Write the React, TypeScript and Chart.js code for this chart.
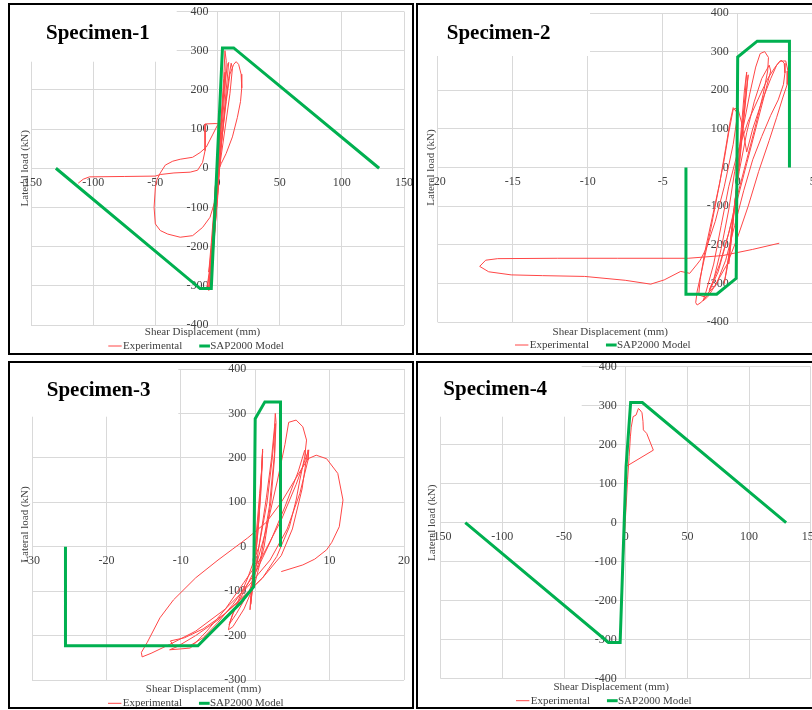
import React, { useEffect, useRef } from 'react';
import { Chart, registerables } from 'chart.js';

Chart.register(...registerables);

const FONT = '"Liberation Serif", "Times New Roman", serif';
const RED = 'rgb(255,70,70)';
const GREEN = '#00b050';
const TEXT = '#404040';
const GRID = '#d9d9d9';

const seriesNames = ['Experimental', 'SAP2000 Model'];
const specimenTitles = ['Specimen-1', 'Specimen-2', 'Specimen-3', 'Specimen-4'];
const xAxisTitle = 'Shear Displacement (mm)';
const yAxisTitle = 'Lateral load (kN)';

// Specimen-1
const spec1Model: [number, number][] = [[-130, 0], [-14, -307], [-5, -307], [4, 307], [13, 307], [130, 0]];
const spec1Experimental: [number, number][] = [
  [0, 0], [1, 50], [2, 100], [1, 40], [0, -20], [-2, -90], [-3, -140], [-1, -60], [1, 20], [3, 120], [5, 200], [6, 245],
  [4, 160], [1, 40], [-2, -80], [-4, -170], [-6, -240], [-7, -265], [-5, -190], [-2, -70], [2, 70], [5, 190], [8, 265],
  [9, 270], [7, 200], [4, 90], [0, -40], [-3, -150], [-6, -250], [-8, -295], [-9, -310], [-7, -300], [-5, -230],
  [-2, -110], [1, 20], [3, 130], [5, 230], [6, 300], [7, 275], [6, 200], [3, 80], [0, -50], [-3, -170], [-6, -280],
  [-7, -312], [-5, -290], [-3, -200], [0, -70], [3, 60], [6, 150], [9, 230], [11, 268], [12, 255], [10, 190], [6, 100],
  [2, 10], [-2, -120], [-5, -240], [-8, -300], [-6, -300], [-3, -190], [0, -70], [3, 60], [7, 170], [10, 240], [13, 265],
  [15, 272], [17, 265], [19, 240], [19.5, 205], [18.5, 170], [16, 130], [12, 80], [7, 38], [3, 12], [0, -10], [-2, -50],
  [-3, -120], [-4, -200], [-5, -270], [-4, -225], [-2, -150], [0, -80], [1, -40], [-2, -83], [-6, -125], [-12, -151],
  [-20, -172], [-30, -176], [-40, -168], [-46, -159], [-50, -142], [-51, -100], [-50, -50], [-49, -31], [-46, -12],
  [-42, 8], [-36, 18], [-30, 23], [-20, 28], [-14, 40], [-9, 54], [-4, 85], [0, 110], [3, 113], [-2, 114], [-10, 113],
  [-10, 80], [-10, 45], [-12, 15], [-16, -5], [-22, -10], [-35, -12], [-46, -16], [-50, -20], [-75, -21], [-103, -22],
  [-108, -28], [-112, -38],
];

// Specimen-2
const spec2Model: [number, number][] = [[-3.45, 0], [-3.45, -328], [-1.4, -328], [-0.1, -287], [0, 286], [1.3, 327], [3.45, 327], [3.45, 0]];
const spec2Experimental: [number, number][] = [
  [0, 0], [0.15, 60], [0.3, 130], [0.45, 200], [0.6, 247], [0.5, 190], [0.3, 110], [0.1, 20], [-0.1, -60], [-0.3, -140],
  [-0.5, -210], [-0.6, -250], [-0.4, -180], [-0.2, -90], [0.1, 0], [0.35, 100], [0.55, 180], [0.7, 240], [0.5, 170],
  [0.2, 50], [-0.1, -60], [-0.4, -170], [-0.7, -260], [-0.9, -300], [-0.6, -230], [-0.3, -120], [0.1, -10], [0.6, 90],
  [1.1, 170], [1.6, 230], [2.1, 265], [2.2, 250], [1.8, 190], [1.2, 100], [0.6, 10], [0, -80], [-0.6, -170],
  [-1.2, -250], [-1.7, -300], [-1.9, -318], [-1.6, -290], [-1.1, -210], [-0.6, -110], [-0.2, -10], [0.3, 90], [0.8, 190],
  [1.2, 260], [1.5, 295], [1.8, 300], [2.05, 285], [2, 250], [1.7, 190], [1.2, 110], [0.6, 20], [0, -70], [-0.6, -170],
  [-1.3, -270], [-2, -330], [-2.4, -348], [-2.7, -356], [-2.8, -350], [-2.7, -320], [-2.3, -250], [-1.8, -160],
  [-1.3, -60], [-0.9, 20], [-0.6, 90], [-0.3, 150], [0, 155], [0.3, 110], [0.6, 40], [1, 100], [1.6, 170], [2.2, 230],
  [2.6, 265], [2.9, 278], [3.1, 270], [3.15, 245], [3.05, 215], [2.7, 175], [2.2, 135], [1.6, 80], [1, 20], [0.4, -60],
  [-0.2, -150], [-0.8, -240], [-1.4, -300], [-2, -335], [-2.3, -345], [-2.1, -320], [-1.6, -250], [-1.1, -150],
  [-0.6, -50], [0, 40], [0.7, 120], [1.4, 180], [2, 230], [2.5, 260], [2.8, 275], [3.2, 276], [3.35, 250], [3.3, 215],
  [3, 180], [2.6, 130], [2.1, 70], [1.4, -10], [0.7, -100], [0, -180], [-0.7, -250], [-1.5, -305], [-2.2, -335],
  [-2.6, -330], [-2.5, -290], [-2.2, -220], [-1.7, -130], [-1.2, -40], [-0.8, 50], [-0.5, 120], [-0.3, 155], [0, 140],
  [-0.3, 60], [-0.9, -50], [-1.5, -140], [-2.1, -210], [-2.5, -240], [-2.7, -250], [-3.2, -274], [-3.8, -269],
  [-4.9, -291], [-5.8, -302], [-7.5, -292], [-10.2, -282], [-13, -280], [-15.1, -278], [-16.6, -270], [-17.2, -256],
  [-16.8, -240], [-16, -236], [-12, -235], [-8, -235], [-3.3, -235], [-1, -228], [1, -212], [2.77, -196],
];

// Specimen-3
const spec3Model: [number, number][] = [[-25.5, 0], [-25.5, -223], [-7.7, -223], [-2, -127], [-0.2, -90], [0, 288], [1.3, 326], [3.4, 326], [3.4, 0]];
const spec3Experimental: [number, number][] = [
  [0, 0], [0.3, 60], [0.6, 120], [0.9, 180], [1, 220], [0.8, 150], [0.4, 60], [0, -10], [-0.3, -60], [-0.6, -110],
  [-0.7, -142], [-0.4, -90], [0, -30], [0.5, 60], [0.8, 150], [1, 215], [0.8, 130], [0.3, 20], [-0.2, -60],
  [-0.6, -130], [-0.4, -100], [0.5, 0], [1.5, 110], [2.2, 200], [2.6, 270], [2.7, 300], [2.8, 280], [2.6, 200],
  [2.1, 100], [1.2, 0], [0, -80], [-1.5, -140], [-3, -180], [-3.6, -187], [-3.4, -170], [-2.5, -130], [-1, -70],
  [0.5, 0], [1.6, 100], [2.3, 200], [2.7, 277], [2.6, 210], [1.9, 90], [0.8, -20], [-0.8, -100], [-2.5, -150],
  [-3.5, -175], [-3, -150], [-1.5, -100], [0, -50], [1.5, 40], [3, 150], [4, 230], [4.5, 280], [5.5, 285], [6.4, 270],
  [6.9, 240], [6.65, 202], [6, 150], [5.5, 105], [4.6, 45], [2.9, -22], [1, -70], [-1.5, -110], [-4, -150],
  [-7, -185], [-9.5, -205], [-11.4, -212], [-11, -222], [-9, -225], [-7, -205], [-5, -170], [-3, -130], [0, -60],
  [2, 10], [4, 90], [5.8, 170], [6.65, 217], [6.9, 200], [6.3, 130], [5, 40], [3.5, -20], [1, -70], [-2, -120],
  [-5, -165], [-8, -200], [-10.5, -225], [-11.5, -232], [-10, -230], [-8.7, -228], [-6.5, -190], [-4, -140],
  [-1.5, -80], [1, -20], [3.5, 60], [5.5, 140], [6.8, 200], [7.2, 218], [7.1, 195], [6, 120], [4.3, 40], [2, -30],
  [-1, -90], [-4, -140], [-8, -190], [-11.5, -220], [-14, -240], [-15.2, -248], [-15.3, -238], [-14.5, -215],
  [-12.8, -160], [-11, -120], [-8, -70], [-5, -30], [-3, -5], [-1, 20], [1.5, 55], [3.5, 100], [5.5, 155], [7.1, 198],
  [8.2, 206], [9.6, 198], [11.1, 165], [11.8, 105], [11.3, 45], [10.3, 10], [9.6, -7], [8, -28], [6.4, -41], [3.5, -56],
];

// Specimen-4
const spec4Model: [number, number][] = [[-130, 0], [-14, -307], [-4.5, -307], [0.3, 144], [4, 308], [13.5, 308], [130, 0]];
const spec4Experimental: [number, number][] = [
  [-4, -210], [-3.2, -170], [-2, -100], [-0.8, -20], [0.3, 40], [1.5, 110], [2.8, 170], [3.8, 220], [4.5, 245],
  [6, 272], [8.4, 276], [10.3, 293], [11.6, 289], [13.2, 282], [14, 260], [14.3, 238], [17, 229], [22.4, 186], [0.8, 145],
];

// axis ranges [min, max, step]
const xRanges = [[-150, 150, 50], [-20, 5, 5], [-30, 20, 10], [-150, 150, 50]];
const yRanges = [[-400, 400, 100], [-400, 400, 100], [-300, 400, 100], [-400, 400, 100]];
const experimentalSeries = [spec1Experimental, spec2Experimental, spec3Experimental, spec4Experimental];
const modelSeries = [spec1Model, spec2Model, spec3Model, spec4Model];

type Rect = { l: number; t: number; w: number; h: number };
type PanelLayout = {
  box: Rect;
  canvas: Rect;
  area: { l: number; r: number; t: number; b: number };
  title: { x: number; y: number };
  mask: { r: number; b: number };
  yTitleX: number;
  xTitle: { x: number; y: number };
  legend: { x: number; y: number };
};

const layouts: PanelLayout[] = [
  {
    box: { l: 8, t: 3, w: 406, h: 352 }, canvas: { l: 8, t: 3, w: 422, h: 352 },
    area: { l: 31, r: 404, t: 11.5, b: 325 }, title: { x: 46, y: 39.3 }, mask: { r: 176.7, b: 61.7 },
    yTitleX: 25, xTitle: { x: 202.5, y: 332 }, legend: { x: 108.3, y: 346 },
  },
  {
    box: { l: 416, t: 3, w: 420, h: 352 }, canvas: { l: 416, t: 3, w: 420, h: 352 },
    area: { l: 437.7, r: 812.7, t: 13, b: 322 }, title: { x: 446.7, y: 39.3 }, mask: { r: 590, b: 56 },
    yTitleX: 431, xTitle: { x: 610.3, y: 331.7 }, legend: { x: 515, y: 345 },
  },
  {
    box: { l: 8, t: 361, w: 406, h: 348 }, canvas: { l: 8, t: 361, w: 422, h: 348 },
    area: { l: 32, r: 404, t: 369, b: 680 }, title: { x: 46.7, y: 395.7 }, mask: { r: 178.3, b: 416.7 },
    yTitleX: 25.3, xTitle: { x: 203.5, y: 689.3 }, legend: { x: 108, y: 703.3 },
  },
  {
    box: { l: 416, t: 361, w: 420, h: 348 }, canvas: { l: 416, t: 356, w: 420, h: 353 },
    area: { l: 440.6, r: 810.8, t: 366.7, b: 678.7 }, title: { x: 443.3, y: 395 }, mask: { r: 581.7, b: 416.7 },
    yTitleX: 432.5, xTitle: { x: 611.2, y: 687.3 }, legend: { x: 516, y: 700.7 },
  },
];

function makeDecor(idx: number) {
  const L = layouts[idx];
  const cl = L.canvas.l;
  const ct = L.canvas.t;
  return {
    id: 'panelDecor' + idx,
    beforeDatasetsDraw(chart: any) {
      const ctx = chart.ctx;
      const ca = chart.chartArea;
      ctx.save();
      ctx.fillStyle = '#ffffff';
      const x0 = ca.left - 3;
      const y0 = ca.top - 3;
      ctx.fillRect(x0, y0, L.mask.r - cl - x0, L.mask.b - ct - y0);
      ctx.restore();
    },
    afterDraw(chart: any) {
      const ctx = chart.ctx;
      const ca = chart.chartArea;
      ctx.save();
      ctx.fillStyle = '#000000';
      ctx.font = `bold 21px ${FONT}`;
      ctx.textAlign = 'left';
      ctx.textBaseline = 'alphabetic';
      ctx.fillText(specimenTitles[idx], L.title.x - cl, L.title.y - ct);
      ctx.fillStyle = TEXT;
      ctx.font = `11px ${FONT}`;
      ctx.save();
      ctx.translate(L.yTitleX - cl, (ca.top + ca.bottom) / 2);
      ctx.rotate(-Math.PI / 2);
      ctx.textAlign = 'center';
      ctx.textBaseline = 'middle';
      ctx.fillText(yAxisTitle, 0, 0);
      ctx.restore();
      ctx.textAlign = 'center';
      ctx.textBaseline = 'middle';
      ctx.fillText(xAxisTitle, L.xTitle.x - cl, L.xTitle.y - ct);
      const lx = L.legend.x - cl;
      const ly = L.legend.y - ct;
      ctx.strokeStyle = RED;
      ctx.lineWidth = 1;
      ctx.beginPath();
      ctx.moveTo(lx, ly);
      ctx.lineTo(lx + 13.4, ly);
      ctx.stroke();
      ctx.textAlign = 'left';
      const t1 = lx + 14.7;
      ctx.fillText(seriesNames[0], t1, ly);
      const g0 = t1 + ctx.measureText(seriesNames[0]).width + 17;
      ctx.strokeStyle = GREEN;
      ctx.lineWidth = 3;
      ctx.beginPath();
      ctx.moveTo(g0, ly);
      ctx.lineTo(g0 + 10.7, ly);
      ctx.stroke();
      ctx.fillText(seriesNames[1], g0 + 11, ly);
      ctx.restore();
    },
  };
}

function Panel({ idx }: { idx: number }) {
  const ref = useRef<HTMLCanvasElement | null>(null);
  const L = layouts[idx];
  useEffect(() => {
    const [xMin, xMax, xStep] = xRanges[idx];
    const [yMin, yMax, yStep] = yRanges[idx];
    const tickFont = { family: FONT, size: 12 };
    const chart = new Chart(ref.current as HTMLCanvasElement, {
      type: 'scatter',
      data: {
        datasets: [
          {
            label: seriesNames[1],
            data: modelSeries[idx].map(([x, y]) => ({ x, y })),
            showLine: true,
            borderColor: GREEN,
            backgroundColor: GREEN,
            borderWidth: 3,
            pointRadius: 0,
            tension: 0,
            order: 0,
          },
          {
            label: seriesNames[0],
            data: experimentalSeries[idx].map(([x, y]) => ({ x, y })),
            showLine: true,
            borderColor: RED,
            backgroundColor: RED,
            borderWidth: 1,
            pointRadius: 0,
            tension: 0,
            order: 1,
          },
        ],
      },
      options: {
        animation: false,
        responsive: false,
        maintainAspectRatio: false,
        layout: {
          padding: {
            left: L.area.l - L.canvas.l,
            right: L.canvas.l + L.canvas.w - L.area.r,
            top: L.area.t - L.canvas.t,
            bottom: L.canvas.t + L.canvas.h - L.area.b,
          },
        },
        plugins: { legend: { display: false }, tooltip: { enabled: false } },
        scales: {
          x: {
            type: 'linear',
            position: { y: 0 } as any,
            min: xMin,
            max: xMax,
            ticks: { stepSize: xStep, font: tickFont, color: TEXT, padding: 7, maxRotation: 0, autoSkip: false },
            grid: { color: GRID, drawTicks: false },
            border: { display: false },
          },
          y: {
            type: 'linear',
            position: { x: 0 } as any,
            min: yMin,
            max: yMax,
            ticks: {
              stepSize: yStep, font: tickFont, color: TEXT, padding: 0, autoSkip: false,
              callback: (v: any) => String(v) + '   ',
            },
            grid: { color: GRID, drawTicks: false },
            border: { display: false },
          },
        },
      },
      plugins: [makeDecor(idx)],
    } as any);
    return () => chart.destroy();
  }, []);
  return (
    <>
      <canvas
        ref={ref}
        width={L.canvas.w}
        height={L.canvas.h}
        style={{ position: 'absolute', left: L.canvas.l, top: L.canvas.t, width: L.canvas.w, height: L.canvas.h }}
      />
      <div
        style={{
          position: 'absolute', left: L.box.l, top: L.box.t, width: L.box.w, height: L.box.h,
          border: '2px solid #000', boxSizing: 'border-box', pointerEvents: 'none',
        }}
      />
    </>
  );
}

export default function App() {
  return (
    <div style={{ position: 'fixed', left: 0, top: 0, width: 812, height: 710, overflow: 'hidden', background: '#fff' }}>
      {[0, 1, 2, 3].map((i) => (
        <Panel key={i} idx={i} />
      ))}
    </div>
  );
}
